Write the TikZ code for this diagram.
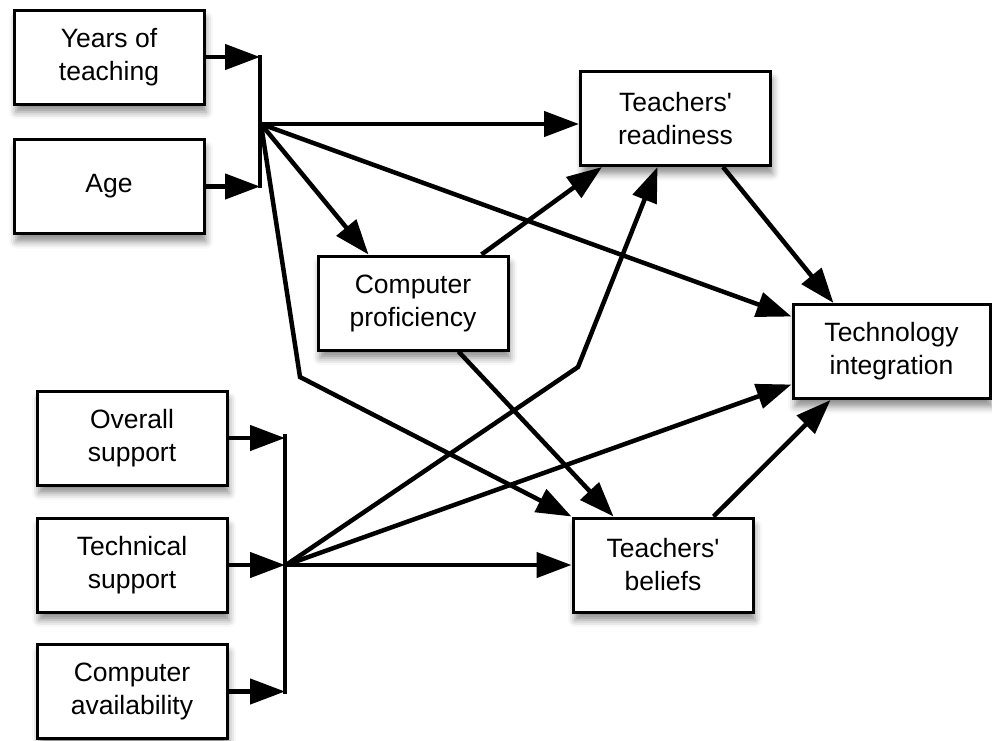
\documentclass[tikz,border=0pt]{standalone}
\usepackage{fontspec}
\setmainfont{Liberation Sans}[Ligatures=TeXOff]
\usetikzlibrary{arrows.meta}
\usetikzlibrary{shadows.blur}
\usetikzlibrary{calc}

\begin{document}
\begin{tikzpicture}[
    x=1pt, y=-1pt,
    box/.style={
        draw, line width=3pt, fill=white,
        minimum width=190pt, minimum height=94pt,
        inner sep=0pt, align=center,
        font=\fontsize{26.5}{33}\selectfont,
        blur shadow={shadow xshift=2pt, shadow yshift=-8pt,
            shadow blur radius=7pt, shadow opacity=45}
    },
    conn/.style={
        line width=4.5pt,
        -{Triangle[length=35pt,width=25pt]}
    },
    bar/.style={
        line width=4.5pt
    }
]
    \useasboundingbox (0,0) rectangle (992,740);

    \node[box] (years)   at (109,57)    {Years of\\teaching};
    \node[box] (age)     at (109,186.5) {Age};
    \node[box] (overall) at (132,438)   {Overall\\support};
    \node[box] (techsup) at (132,565)   {Technical\\support};
    \node[box] (avail)   at (132,691.5) {Computer\\availability};
    \node[box] (prof)    at (413,303)   {Computer\\proficiency};
    \node[box] (ready)   at (675.5,118.5) {Teachers'\\readiness};
    \node[box, minimum width=180pt] (beliefs) at (663,565) {Teachers'\\beliefs};
    \node[box, minimum width=197pt] (integ) at (891.5,351.5) {Technology\\integration};

    \coordinate (b1top) at (260,55);
    \coordinate (b1bot) at (260,188);
    \coordinate (j1)    at (261,124);
    \coordinate (b2top) at (285,434);
    \coordinate (b2bot) at (285,694);
    \coordinate (j2)    at (286,565);
    \coordinate (k1)    at (300,377);
    \coordinate (k2)    at (578,367);

    \draw[bar] (b1top) -- (b1bot);
    \draw[bar] (b2top) -- (b2bot);

    \draw[conn] (years.east) -- (years.east -| b1top);
    \draw[conn] (age.east) -- (age.east -| b1top);
    \draw[conn] (overall.east) -- (overall.east -| b2top);
    \draw[conn] (techsup.east) -- (techsup.east -| b2top);
    \draw[conn] (avail.east) -- (avail.east -| b2top);

    \draw[conn] (j1) -- (j1 -| ready.west);
    \draw[conn] (j1) -- ([xshift=52pt]prof.north west);
    \draw[conn] (j1) -- ([yshift=35pt]integ.west);
    \draw[conn] (j1) -- (k1) -- (beliefs.north west);

    \draw[conn] ([xshift=-28pt]prof.north east) -- ([xshift=23pt]ready.south west);
    \draw[conn] ([xshift=142pt]prof.south west) -- ([xshift=42pt]beliefs.north west);
    \draw[conn] ([xshift=-49pt]ready.south east) -- ([xshift=42pt]integ.north west);

    \draw[conn] (j2) -- (k2) -- ([xshift=-18pt]ready.south);
    \draw[conn] (j2) -- ([yshift=-33pt]integ.west);
    \draw[conn] (j2) -- (beliefs.west);
    \draw[conn] ([xshift=-41pt]beliefs.north east) -- ([xshift=39pt]integ.south west);

\end{tikzpicture}
\end{document}
